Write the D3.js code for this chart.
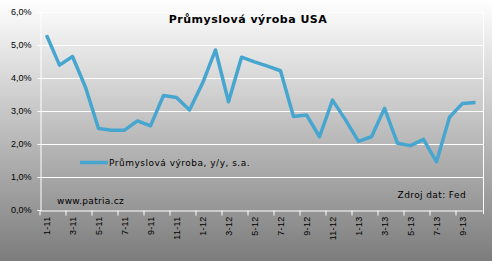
<!DOCTYPE html>
<html>
<head>
<meta charset="utf-8">
<script src="https://cdn.jsdelivr.net/npm/d3@7"></script>
<style>
  html, body { margin: 0; padding: 0; background: #fff; }
  svg { display: block; font-family: "DejaVu Sans", Verdana, sans-serif; }
</style>
</head>
<body>
<svg id="chart" width="492" height="261"></svg>
<script>
// data
var months = ['1-11','2-11','3-11','4-11','5-11','6-11','7-11','8-11','9-11','10-11','11-11','12-11',
              '1-12','2-12','3-12','4-12','5-12','6-12','7-12','8-12','9-12','10-12','11-12','12-12',
              '1-13','2-13','3-13','4-13','5-13','6-13','7-13','8-13','9-13','10-13'];
var vyroba = [5.30, 4.39, 4.65, 3.72, 2.47, 2.42, 2.42, 2.70, 2.55, 3.47, 3.41, 3.03,
              3.84, 4.85, 3.28, 4.63, 4.49, 4.36, 4.22, 2.83, 2.88, 2.22, 3.33, 2.73,
              2.08, 2.22, 3.08, 2.02, 1.95, 2.14, 1.46, 2.81, 3.23, 3.26];
var yTicks = [0, 1, 2, 3, 4, 5, 6];
var title = 'Průmyslová výroba USA';
var seriesName = 'Průmyslová výroba, y/y, s.a.';

var svg = d3.select('#chart');
var W = 492, H = 261;
var plotL = 40, plotR = 482, plotT = 12, plotB = 210;

var defs = svg.append('defs');
var grad = defs.append('linearGradient')
	.attr('id', 'bg')
	.attr('x1', 0).attr('y1', 0).attr('x2', 0).attr('y2', 1);
grad.append('stop').attr('offset', '0%').attr('stop-color', '#ffffff');
grad.append('stop').attr('offset', '100%').attr('stop-color', '#7c7c7c');

svg.append('rect')
	.attr('width', W).attr('height', H)
	.style('fill', 'url(#bg)');

var x = d3.scaleBand().domain(months).range([plotL, plotR]).padding(0);
var y = d3.scaleLinear().domain([0, 6]).range([plotB, plotT]);
var cx = function(m) { return x(m) + x.bandwidth() / 2; };

var pct = d3.formatLocale({decimal: ',', thousands: ' ', grouping: [3], currency: ['', '']}).format('.1f');

// gridlines (incl. top border)
svg.append('g').selectAll('line')
	.data(yTicks.slice(1))
	.join('line')
	.attr('x1', plotL).attr('x2', plotR + 1)
	.attr('y1', function(d) { return Math.round(y(d)) + 0.5; })
	.attr('y2', function(d) { return Math.round(y(d)) + 0.5; })
	.style('stroke', '#ffffff')
	.style('stroke-width', 1);

// right border
svg.append('line')
	.attr('x1', plotR + 1.5).attr('x2', plotR + 1.5)
	.attr('y1', plotT).attr('y2', plotB + 4)
	.style('stroke', '#ffffff');

// y axis
var yAxis = svg.append('g')
	.attr('transform', 'translate(' + (plotL + 0.5) + ',0)')
	.call(d3.axisLeft(y).tickValues(yTicks).tickSize(3).tickFormat(function(d) { return pct(d) + '%'; }));
yAxis.select('.domain').style('stroke', '#ffffff');
yAxis.selectAll('.tick line').style('stroke', '#ffffff');
yAxis.selectAll('.tick text')
	.attr('x', -9)
	.style('font-size', '9px')
	.style('fill', '#000');

// x axis
var xAxis = svg.append('g')
	.attr('transform', 'translate(0,' + (plotB + 0.5) + ')')
	.call(d3.axisBottom(x)
		.tickValues(months.filter(function(d, i) { return i % 2 === 0; }))
		.tickSize(5)
		.tickSizeOuter(0));
xAxis.select('.domain').style('stroke', '#ffffff');
xAxis.selectAll('.tick line')
	.attr('x1', -x.bandwidth() / 2)
	.attr('x2', -x.bandwidth() / 2)
	.style('stroke', '#ffffff');
xAxis.selectAll('.tick text')
	.attr('transform', 'rotate(-90)')
	.attr('x', -6)
	.attr('y', 0)
	.attr('dy', '0.35em')
	.style('text-anchor', 'end')
	.style('font-size', '9px')
	.style('letter-spacing', '0.3px')
	.style('fill', '#000');

// line
var line = d3.line()
	.x(function(d, i) { return cx(months[i]); })
	.y(function(d) { return y(d); });

svg.append('path')
	.datum(vyroba)
	.attr('d', line)
	.style('fill', 'none')
	.style('stroke', '#47a6cf')
	.style('stroke-width', 3.5)
	.style('stroke-linejoin', 'round');

// title
svg.append('text')
	.attr('x', 248).attr('y', 23)
	.attr('text-anchor', 'middle')
	.style('font-size', '11px')
	.style('font-weight', 'bold')
	.style('letter-spacing', '0.5px')
	.style('fill', '#000')
	.text(title);

// legend
svg.append('line')
	.attr('x1', 80).attr('x2', 108)
	.attr('y1', 162.5).attr('y2', 162.5)
	.style('stroke', '#47a6cf')
	.style('stroke-width', 3.5);
svg.append('text')
	.attr('x', 109).attr('y', 166)
	.style('font-size', '9px')
	.style('letter-spacing', '0.5px')
	.style('fill', '#000')
	.text(seriesName);

// notes
svg.append('text')
	.attr('x', 57).attr('y', 204)
	.style('font-size', '9px')
	.style('letter-spacing', '0.3px')
	.style('fill', '#000')
	.text('www.patria.cz');
svg.append('text')
	.attr('x', 466).attr('y', 198)
	.attr('text-anchor', 'end')
	.style('font-size', '9px')
	.style('letter-spacing', '0.4px')
	.style('fill', '#000')
	.text('Zdroj dat: Fed');
</script>
</body>
</html>
